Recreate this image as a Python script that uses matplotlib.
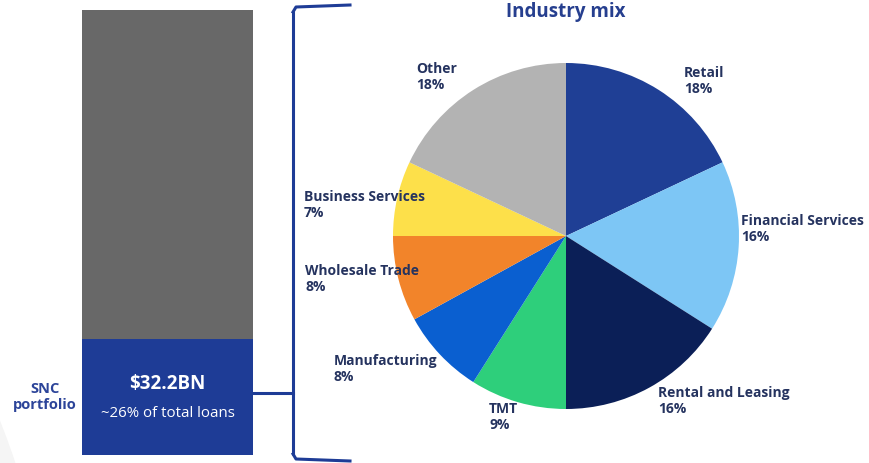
import matplotlib.pyplot as plt
from matplotlib.patches import Circle

# Loan book split: SNC portfolio vs. rest of total loans (% of total)
portfolio_parts = ['SNC portfolio', 'Other loans']
portfolio_share = [26, 74]
snc_amount = '$32.2BN'
snc_note = '~26% of total loans'

# Industry mix of the SNC portfolio
industries = ['Retail', 'Financial Services', 'Rental and Leasing', 'TMT',
              'Manufacturing', 'Wholesale Trade', 'Business Services', 'Other']
industry_pct = [18, 16, 16, 9, 8, 8, 7, 18]
industry_colors = ['#1f3f95', '#7dc6f5', '#0b1f57', '#2ecf7b',
                   '#0a5fd0', '#f2842a', '#fde04a', '#b3b3b3']
# label anchor (top-left) in pixels
label_pos = [(684, 66), (741, 214), (658, 386), (489, 402),
             (334, 354), (305, 264), (304, 190), (416, 62)]

NAVY = '#1e3c96'
TEXT = '#25335f'
W, H = 869, 463

plt.rcParams['font.family'] = ['Open Sans', 'DejaVu Sans']
fig = plt.figure(figsize=(W / 100, H / 100), dpi=100)

# full-figure axes in pixel units
ax = fig.add_axes([0, 0, 1, 1])
ax.set_xlim(0, W)
ax.set_ylim(H, 0)
ax.axis('off')

# faint backdrop arc in the corner
ax.add_patch(Circle((-700, 700), 753, color='#f5f5f5', zorder=0))

# stacked bar, drawn in pixel space: bottom at y=455, total height 445
bar_bottom, bar_height = 455, 445
scale = bar_height / sum(portfolio_share)
bar_colors = [NAVY, '#686868']
base = bar_bottom
for share, col in zip(portfolio_share, bar_colors):
    ax.bar(167.5, -share * scale, bottom=base, width=171, color=col,
           align='center', zorder=2)
    base -= share * scale

snc_top = bar_bottom - portfolio_share[0] * scale
snc_mid = (snc_top + bar_bottom) / 2
ax.text(167.5, snc_mid - 13, snc_amount, color='white', fontsize=13.5,
        fontweight='bold', ha='center', va='center', zorder=3)
ax.text(167.5, snc_mid + 16, snc_note, color='white', fontsize=10.8,
        ha='center', va='center', zorder=3)
ax.text(45, snc_mid, 'SNC\nportfolio', color='#2c4499', fontsize=10.5,
        fontweight='bold', ha='center', va='center', linespacing=1.15)

# bracket linking the SNC slice to the pie
bx = 293
ax.plot([bx, bx], [12, 454], color=NAVY, lw=2.2, solid_capstyle='round')
ax.plot([bx, bx + 3, 350], [12, 7, 5], color=NAVY, lw=2.2)
ax.plot([bx, bx + 3, 350], [454, 459, 461], color=NAVY, lw=2.2)
ax.plot([253, bx], [393, 393], color=NAVY, lw=2.2)

ax.text(566, 12, 'Industry mix', color='#263f8f', fontsize=13.5,
        fontweight='bold', ha='center', va='center')

# pie axes centred at (566, 236) px with radius 173 px
cx, cy, r = 566, 236, 173
pax = fig.add_axes([(cx - r) / W, (H - cy - r) / H, 2 * r / W, 2 * r / H])
pax.pie(industry_pct, colors=industry_colors, startangle=90,
        counterclock=False, radius=1,
        wedgeprops=dict(linewidth=0))
pax.set_xlim(-1, 1)
pax.set_ylim(-1, 1)
pax.set_aspect('equal')
pax.axis('off')

# labels on top of everything
tax = fig.add_axes([0, 0, 1, 1], zorder=5)
tax.set_xlim(0, W)
tax.set_ylim(H, 0)
tax.axis('off')
for name, pct, (lx, ly) in zip(industries, industry_pct, label_pos):
    tax.text(lx, ly, f'{name}\n{pct}%', color=TEXT, fontsize=10,
             fontweight='bold', ha='left', va='top', linespacing=1.2)

fig.savefig('out.png', dpi=100)
plt.close(fig)
